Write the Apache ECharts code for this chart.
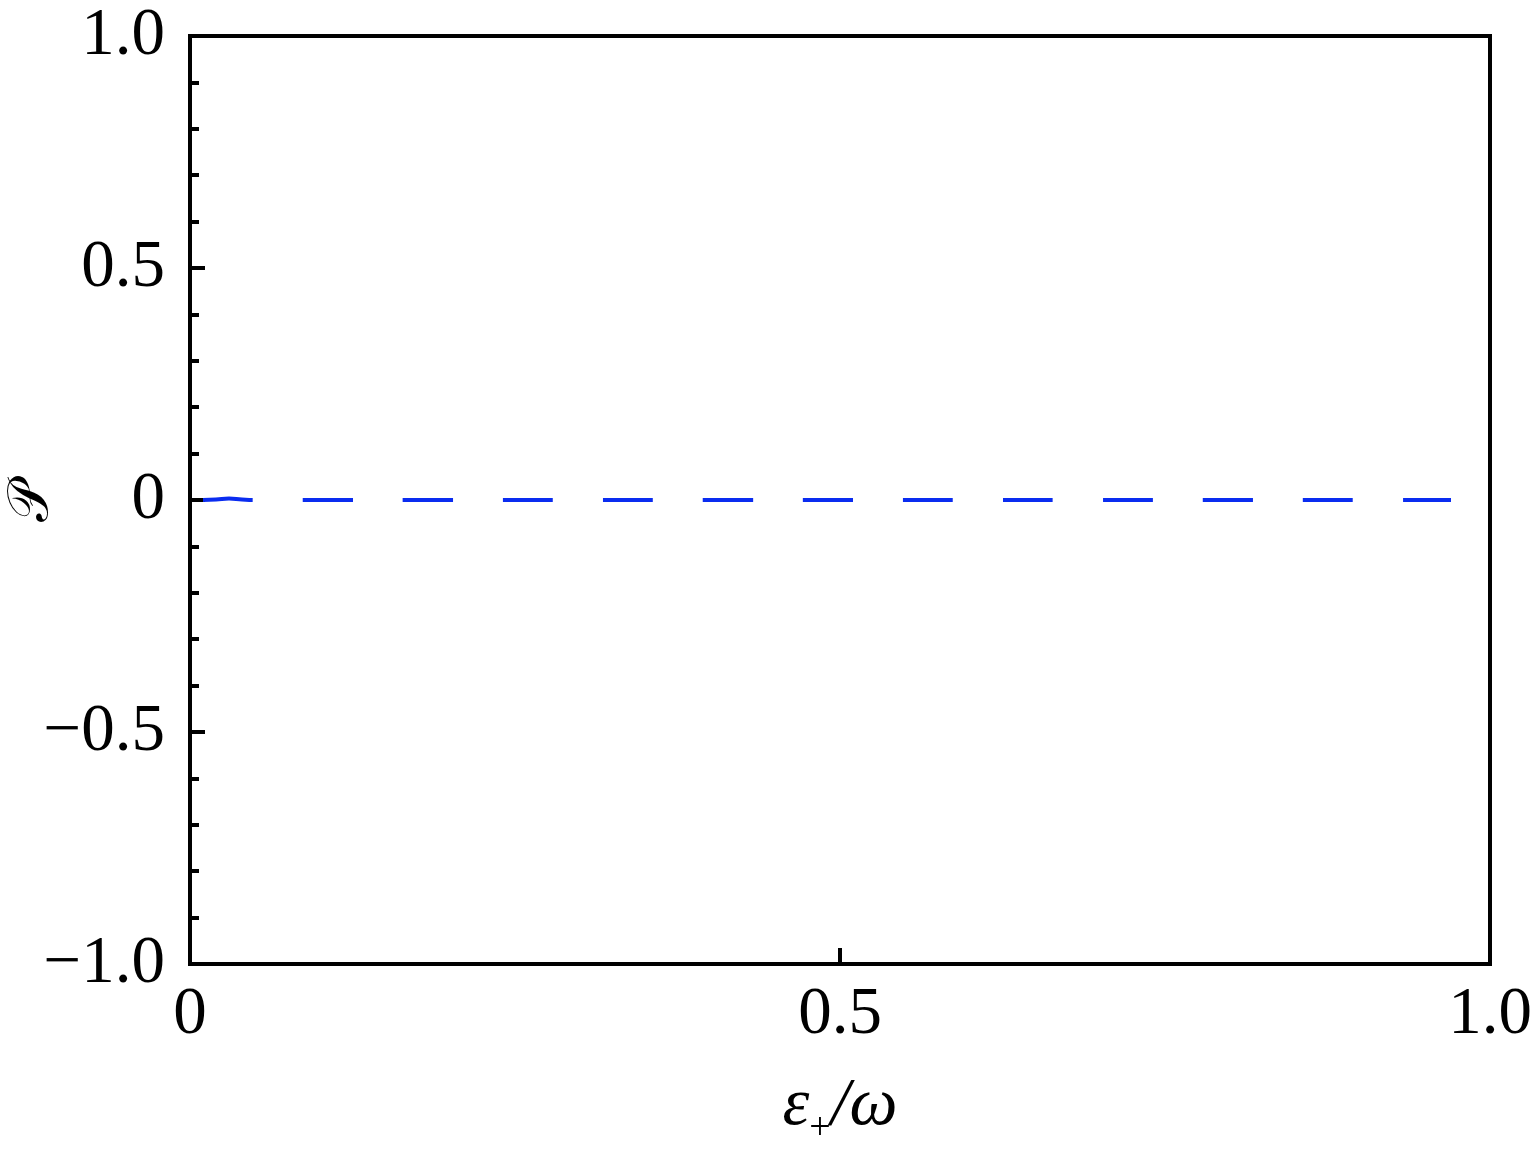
<!DOCTYPE html>
<html>
<head>
<meta charset="utf-8">
<script src="https://cdn.jsdelivr.net/npm/echarts@6/dist/echarts.min.js"></script>
<style>
html,body{margin:0;padding:0;background:#fff;}
#main{width:1535px;height:1157px;}
</style>
</head>
<body>
<div id="main"></div>
<script>
// Data
var xValues = [0.01, 0.02, 0.03, 0.04, 0.05, 0.1, 0.2, 0.3, 0.4, 0.5, 0.6, 0.7, 0.8, 0.9, 0.97];
var pValues = [0, 0.001, 0.003, 0.001, 0, 0, 0, 0, 0, 0, 0, 0, 0, 0, 0];
var xTickLabels = {"0": "0", "0.5": "0.5", "1": "1.0"};
var yTickLabels = {"-1": "\u22121.0", "-0.5": "\u22120.5", "0": "0", "0.5": "0.5", "1": "1.0"};
var yAxisTitle = '\ud835\udcab';

var seriesData = xValues.map(function (x, i) { return [x, pValues[i]]; });
var serif = '"Liberation Serif", "DejaVu Serif", serif';

var chart = echarts.init(document.getElementById('main'), null, {renderer: 'canvas'});
chart.setOption({
  backgroundColor: '#ffffff',
  animation: false,
  grid: {
    left: 190, right: 45, top: 36, bottom: 193,
    containLabel: false, outerBoundsMode: 'none',
    show: true, borderColor: '#000', borderWidth: 4, backgroundColor: 'transparent'
  },
  graphic: [{
    type: 'text',
    x: 32, y: 502,
    rotation: Math.PI / 2,
    style: {
      text: yAxisTitle,
      font: '56px "DejaVu Serif", "DejaVu Sans", "Noto Sans", serif',
      fill: '#000',
      align: 'center',
      verticalAlign: 'middle'
    }
  }],
  xAxis: {
    type: 'value', min: 0, max: 1, interval: 0.5,
    name: '{e|\u03b5}{s|+}{e|/\u03c9}',
    nameLocation: 'middle', nameGap: 108,
    nameTextStyle: {
      rich: {
        e: {fontFamily: serif, fontStyle: 'italic', fontSize: 68, color: '#000'},
        s: {fontFamily: serif, fontSize: 38, color: '#000', verticalAlign: 'bottom', padding: [0, 0, -8, 0]}
      }
    },
    axisLine: {show: true, onZero: false, lineStyle: {color: '#000', width: 4}},
    axisTick: {show: true, inside: true, length: 16, lineStyle: {color: '#000', width: 4}},
    minorTick: {show: false},
    splitLine: {show: false},
    axisLabel: {
      margin: 18, fontFamily: serif, fontSize: 67, color: '#000',
      formatter: function (v) { var k = String(Math.round(v * 10) / 10); return xTickLabels[k] !== undefined ? xTickLabels[k] : ''; }
    }
  },
  yAxis: {
    type: 'value', min: -1, max: 1, interval: 0.5,
    axisLine: {show: true, onZero: false, lineStyle: {color: '#000', width: 4}},
    axisTick: {show: true, inside: true, length: 15, lineStyle: {color: '#000', width: 4}},
    minorTick: {show: true, splitNumber: 5, length: 9, lineStyle: {color: '#000', width: 4}},
    splitLine: {show: false},
    minorSplitLine: {show: false},
    axisLabel: {
      margin: 25, fontFamily: serif, fontSize: 67, color: '#000',
      formatter: function (v) { var k = String(Math.round(v * 10) / 10); return yTickLabels[k] !== undefined ? yTickLabels[k] : ''; }
    }
  },
  series: [{
    type: 'line',
    data: seriesData,
    showSymbol: false,
    smooth: true,
    lineStyle: {color: '#0a2cf0', width: 4, type: [50, 50]}
  }]
});
</script>
</body>
</html>
